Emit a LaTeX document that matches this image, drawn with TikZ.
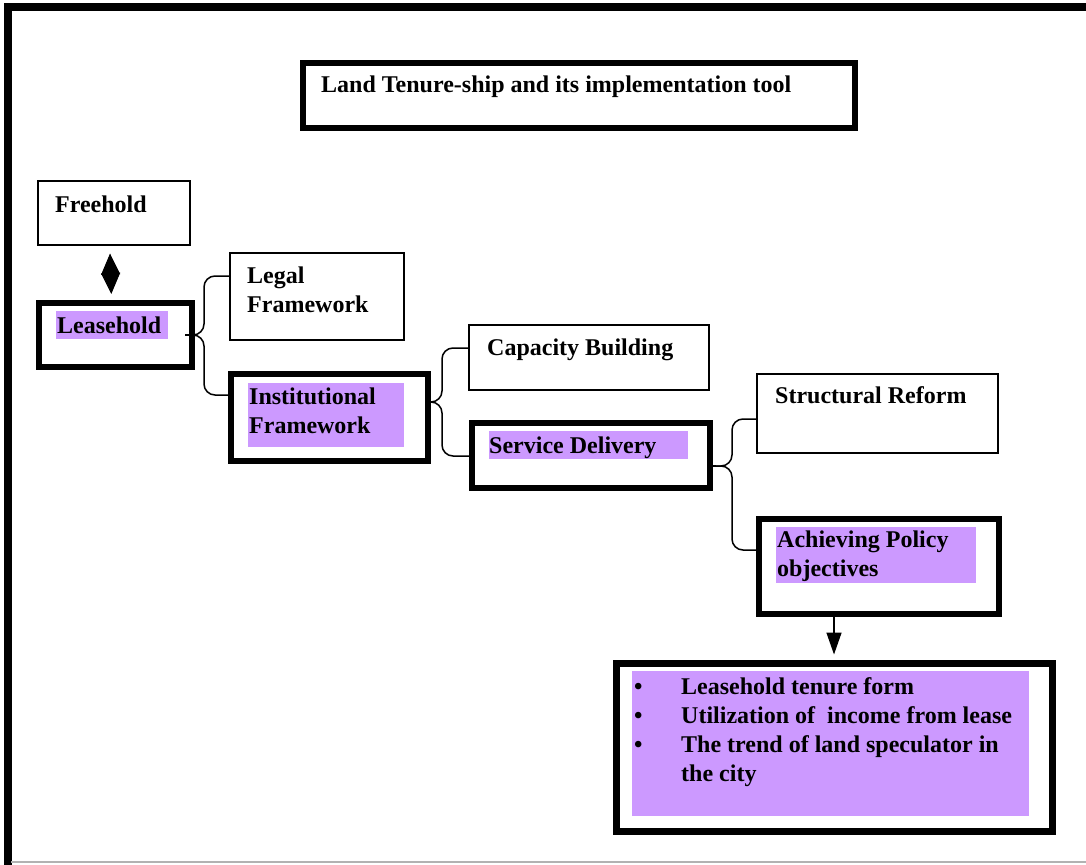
\documentclass[tikz,border=0pt]{standalone}
\usepackage{fontspec}
\setmainfont{Liberation Serif}
\usetikzlibrary{arrows.meta}

\definecolor{lilac}{HTML}{CC99FF}

\tikzset{
  plainbox/.style={draw,line width=1.5pt,inner sep=0pt,anchor=north west},
  boldbox/.style={draw,line width=6pt,inner sep=0pt,anchor=north west},
  shade/.style={fill=lilac,inner sep=0pt,anchor=north west},
  lbl/.style={anchor=base west,inner sep=0pt,align=left,
    font=\bfseries\fontsize{24}{29}\selectfont},
  link/.style={line width=1.5pt,rounded corners=11pt},
  tip/.style={line width=1.5pt,-{Triangle[width=15pt,length=22pt]}},
}

\begin{document}
\begin{tikzpicture}[x=1pt,y=-1pt]
\useasboundingbox (0,0) rectangle (1086,864);
% frame
\draw[line width=8pt] (7.5,870) -- (7.5,7.5) -- (1090,7.5);
\draw[black!30,line width=1.5pt] (11,862) -- (1090,862);

% boxes (multi-line labels sit on their last baseline)
\node[boldbox,minimum width=552pt,minimum height=65pt] at (300,60) (title) {};
\node[lbl] at (321,93) (titletext) {Land Tenure-ship and its implementation tool};

\node[plainbox,minimum width=152pt,minimum height=64pt] at (37,180) (freehold) {};
\node[lbl] at (55,212) (freeholdtext) {Freehold};

\node[boldbox,minimum width=153pt,minimum height=64pt] at (36,300) (lease) {};
\node[shade,minimum width=112pt,minimum height=28pt] at (56,311) (leasefill) {};
\node[lbl] at (57,333) (leasetext) {Leasehold};

\node[plainbox,minimum width=174pt,minimum height=87pt] at (229,252) (legal) {};
\node[lbl] at (247,312) (legaltext) {Legal\\Framework};

\node[boldbox,minimum width=197pt,minimum height=87pt] at (228,371) (inst) {};
\node[shade,minimum width=156pt,minimum height=64pt] at (248,383) (instfill) {};
\node[lbl] at (249,433) (insttext) {Institutional\\Framework};

\node[plainbox,minimum width=240pt,minimum height=65pt] at (468,324) (capacity) {};
\node[lbl] at (487,355) (capacitytext) {Capacity Building};

\node[boldbox,minimum width=238pt,minimum height=65pt] at (469,420) (service) {};
\node[shade,minimum width=199pt,minimum height=28pt] at (489,431) (servicefill) {};
\node[lbl] at (489,453) (servicetext) {Service Delivery};

\node[plainbox,minimum width=241pt,minimum height=79pt] at (756,373) (reform) {};
\node[lbl] at (775,403) (reformtext) {Structural Reform};

\node[boldbox,minimum width=240pt,minimum height=95pt] at (756,516) (policy) {};
\node[shade,minimum width=200pt,minimum height=56pt] at (776,527) (policyfill) {};
\node[lbl] at (777,576) (policytext) {Achieving Policy\\objectives};

\node[boldbox,line width=7pt,minimum width=436pt,minimum height=168pt] at (612.5,659.5) (result) {};
\node[shade,minimum width=397pt,minimum height=145pt] at (632,671) (resultfill) {};
\node[lbl] at (634,781) (resulttext) {\makebox[47pt][l]{\textbullet}Leasehold tenure form\\
  \makebox[47pt][l]{\textbullet}Utilization of~ income from lease\\
  \makebox[47pt][l]{\textbullet}The trend of land speculator in\\
  \hspace*{47pt}the city};

% freehold <-> leasehold
\draw[line width=1pt,{Triangle[width=19pt,length=21pt]}-{Triangle[width=19pt,length=21pt]},
  shorten <=8pt,shorten >=6pt] ([xshift=-4pt]freehold.south) -- ([xshift=-4pt]lease.north);

% braces
\coordinate (braceA) at (193,335);
\draw[line width=1.5pt] ([xshift=-10pt]lease.east |- braceA) -- (braceA);
\draw[link] (braceA) -- (204,335) |- ([yshift=-24pt]legal.north west);
\draw[link] (braceA) -- (204,335) |- ([yshift=-24pt]inst.north west);

\coordinate (braceB) at (429,402);
\draw[line width=1.5pt] ([xshift=-6pt]inst.east |- braceB) -- (braceB);
\draw[link] (braceB) -- (442,402) |- ([yshift=-24pt]capacity.north west);
\draw[link] (braceB) -- (442,402) |- ([yshift=-36pt]service.north west);

\coordinate (braceC) at (716,466);
\draw[line width=1.5pt] (service.east |- braceC) -- (braceC);
\draw[link] (braceC) -- (732,466) |- ([yshift=-46pt]reform.north west);
\draw[link] (braceC) -- (732,466) |- ([yshift=-34pt]policy.north west);

% to the outcomes
\draw[tip,shorten >=5pt] (policy.south -| result.north) -- (result.north);
\end{tikzpicture}
\end{document}
